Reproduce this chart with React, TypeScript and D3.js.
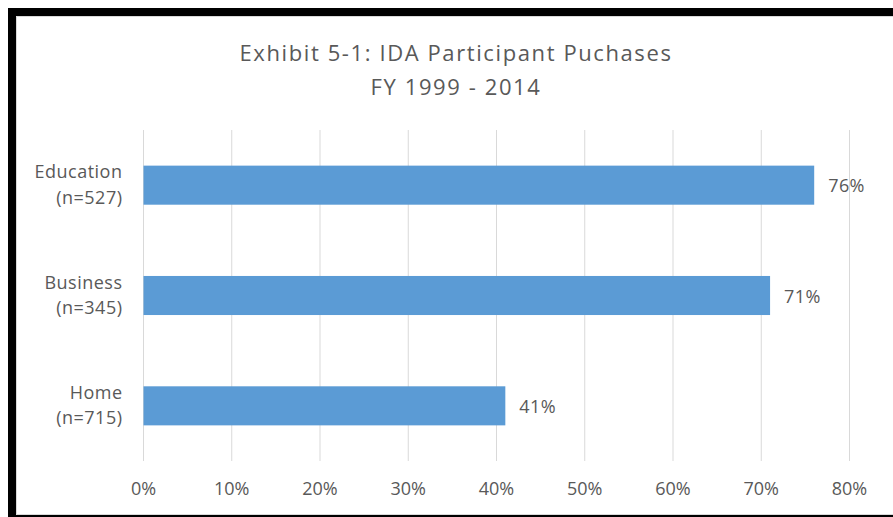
import * as d3 from 'd3';

const categories = ['Education', 'Business', 'Home'];
const counts = ['(n=527)', '(n=345)', '(n=715)'];
const values = [0.76, 0.71, 0.41];
const ticks = [0, 0.1, 0.2, 0.3, 0.4, 0.5, 0.6, 0.7, 0.8];
const titleLines = ['Exhibit 5-1: IDA Participant Puchases', 'FY 1999 - 2014'];

const W = 893;
const H = 517;
const font = '"Open Sans", "Noto Sans", sans-serif';
const textColor = '#595959';

export default function App() {
  const x = d3.scaleLinear().domain([0, 0.8]).range([143.5, 849.5]);
  const y = d3.scaleBand().domain(categories).range([130, 461]).paddingInner(0.646).paddingOuter(0.323);
  const fmt = d3.format('.0%');

  return (
    <svg width={W} height={H} style={{ position: 'absolute', left: 0, top: 0 }}>
      <rect x={0} y={0} width={W} height={H} fill='white' />
      {/* frame */}
      <rect x={8} y={8} width={W - 8} height={8} fill='black' />
      <rect x={8} y={8} width={8} height={H - 8} fill='black' />
      <rect x={8} y={515} width={W - 8} height={2} fill='black' />
      <line x1={16.5} x2={W} y1={16.5} y2={16.5} stroke='#d9d9d9' />
      <line x1={16.5} x2={16.5} y1={16.5} y2={514.5} stroke='#d9d9d9' />
      <line x1={16.5} x2={W} y1={514.5} y2={514.5} stroke='#d9d9d9' />

      {titleLines.map((t, i) => (
        <text key={t} x={456} y={61 + i * 34} textAnchor='middle' fontFamily={font} fontSize={22} letterSpacing={1.6} fill={textColor}>
          {t}
        </text>
      ))}

      {ticks.map((t) => (
        <g key={t}>
          <line x1={x(t)} x2={x(t)} y1={130} y2={461} stroke='#d9d9d9' strokeWidth={1} />
          <text x={x(t)} y={495} textAnchor='middle' fontFamily={font} fontSize={18} fill={textColor}>
            {fmt(t)}
          </text>
        </g>
      ))}

      {categories.map((c, i) => {
        const yy = y(c)!;
        const bh = y.bandwidth();
        const mid = yy + bh / 2;
        return (
          <g key={c}>
            <rect x={x(0)} y={yy} width={x(values[i]) - x(0)} height={bh} fill='#5b9bd5' />
            <text x={x(values[i]) + 14} y={mid + 7} fontFamily={font} fontSize={18} letterSpacing={0.4} fill={textColor}>
              {fmt(values[i])}
            </text>
            <text x={122.5} y={mid - 7} textAnchor='end' fontFamily={font} fontSize={18} letterSpacing={0.5} fill={textColor}>
              {c}
            </text>
            <text x={122.5} y={mid + 18.5} textAnchor='end' fontFamily={font} fontSize={18} letterSpacing={0.5} fill={textColor}>
              {counts[i]}
            </text>
          </g>
        );
      })}
    </svg>
  );
}
